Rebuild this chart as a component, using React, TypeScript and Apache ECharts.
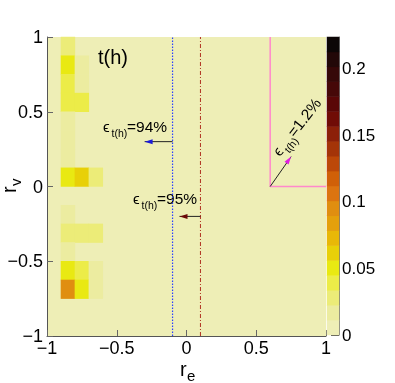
import React, { useEffect, useRef } from "react";
import * as echarts from "echarts";

const FONT = "'Liberation Sans', Arial, Helvetica, sans-serif";

// histogram binning (category bins on the hidden axes)
const X_BINS = ["-0.95","-0.85","-0.75","-0.65","-0.55","-0.45","-0.35","-0.25","-0.15","-0.05","0.05","0.15","0.25","0.35","0.45","0.55","0.65","0.75","0.85","0.95"];
const Y_BINS = ["-0.9375","-0.8125","-0.6875","-0.5625","-0.4375","-0.3125","-0.1875","-0.0625","0.0625","0.1875","0.3125","0.4375","0.5625","0.6875","0.8125","0.9375"];

// filled cells: bin centre x (r_e), bin centre y (r_v), content
const cellX = [-0.85, -0.85, -0.75, -0.85, -0.75, -0.85, -0.75, -0.85, -0.85, -0.85, -0.85, -0.75, -0.65, -0.85, -0.85, -0.75, -0.65, -0.85, -0.85, -0.75, -0.65, -0.85, -0.75, -0.65];
const cellY = [0.9375, 0.8125, 0.8125, 0.6875, 0.6875, 0.5625, 0.5625, 0.4375, 0.3125, 0.1875, 0.0625, 0.0625, 0.0625, -0.1875, -0.3125, -0.3125, -0.3125, -0.4375, -0.5625, -0.5625, -0.5625, -0.6875, -0.6875, -0.6875];
const cellV = [0.028, 0.052, 0.02, 0.035, 0.02, 0.042, 0.042, 0.02, 0.02, 0.02, 0.045, 0.062, 0.025, 0.02, 0.025, 0.025, 0.025, 0.02, 0.052, 0.035, 0.02, 0.09, 0.052, 0.02];

// colour palette (bottom to top of the colour bar)
const Z_MAX = 0.224;
const PALETTE = ["#eeeeb6","#ececa0","#ecec78","#ecec48","#e9e912","#e8d008","#e8b808","#e4a00c","#e08e10","#dc7410","#d06008","#bc4808","#a43408","#8c2008","#700c06","#5a0606","#460808","#360808","#220808","#0c0606"];

// axis ticks
const AXIS_MIN = -1;
const AXIS_MAX = 1;
const AXIS_STEP = 0.5;
const Z_STEP_LABEL = 0.05;

// reference lines / arrows (data coordinates)
const blueLine = [[-0.1, -1], [-0.1, 1]];
const redLine = [[0.1, -1], [0.1, 1]];
const pinkBox = [[0.6, 1], [0.6, 0], [1, 0]];
const arrowBlue = [[-0.1, 0.3], [-0.3, 0.3]];
const arrowRed = [[0.1, -0.2], [-0.05, -0.2]];
const arrowPink = [[0.6, 0], [0.75, 0.2]];

function fmt(v: number) {
  const s = String(Math.round(v * 1000) / 1000);
  return s.replace("-", "\u2212");
}

function epsText(x: number, y: number, rest: string, rotation = 0) {
  return {
    type: "group",
    x,
    y,
    rotation,
    children: [
      { type: "text", x: 0, y: -5, style: { text: "\u03f5", fontSize: 15, fontFamily: FONT, fill: "#000", align: "left", verticalAlign: "middle" } },
      { type: "text", x: 8.5, y: 1.8, style: { text: "t(h)", fontSize: 10.5, fontFamily: FONT, fill: "#000", align: "left", verticalAlign: "middle" } },
      { type: "text", x: 24, y: -5, style: { text: rest, fontSize: 15.5, fontFamily: FONT, fill: "#000", align: "left", verticalAlign: "middle" } },
    ],
  };
}

export default function App() {
  const ref = useRef<HTMLDivElement>(null);
  useEffect(() => {
    if (!ref.current) return;
    const chart = echarts.init(ref.current, undefined, { renderer: "svg" });
    const step = Z_MAX / PALETTE.length;
    const pieces = PALETTE.map((c, i) => ({ gte: i * step, lt: i === PALETTE.length - 1 ? Z_MAX + 1 : (i + 1) * step, color: c }));
    const heat = cellX.map((x, i) => [
      Math.round((x - AXIS_MIN) / 0.1 - 0.5),
      Math.round((cellY[i] - AXIS_MIN) / 0.125 - 0.5),
      cellV[i],
    ]);
    const barData = PALETTE.map((_, i) => [0, i, (i + 0.5) * step]);

    const valueAxisCommon = {
      type: "value",
      gridIndex: 0,
      min: AXIS_MIN,
      max: AXIS_MAX,
      interval: AXIS_STEP,
      axisLine: { show: true, lineStyle: { color: "#555", width: 1 } },
      axisTick: { show: true, inside: true, length: 6, lineStyle: { color: "#666" } },
      splitLine: { show: false },
      axisLabel: { fontSize: 18, fontFamily: FONT, color: "#000", formatter: (v: number) => fmt(v) },
    };

    const lineS = (data: number[][], color: string, type: any, width = 1) => ({
      type: "line",
      xAxisIndex: 1,
      yAxisIndex: 1,
      data,
      symbol: "none",
      silent: true,
      animation: false,
      color,
      lineStyle: { color, type, width },
      z: 5,
    });
    const head = (pt: number[], color: string, rot: number, off: number[]) => ({
      type: "scatter",
      xAxisIndex: 1,
      yAxisIndex: 1,
      data: [pt],
      symbol: "triangle",
      symbolSize: [5, 8],
      symbolRotate: rot,
      symbolOffset: off,
      itemStyle: { color, opacity: 1 },
      silent: true,
      z: 6,
    });

    chart.setOption({
      animation: false,
      grid: [
        { left: 47, top: 37, width: 279, height: 299, show: true, backgroundColor: PALETTE[0], borderWidth: 0 },
        { left: 327, top: 37, width: 12, height: 298, show: false },
      ],
      xAxis: [
        { type: "category", gridIndex: 0, data: X_BINS, show: false },
        { ...valueAxisCommon, position: "bottom", axisLabel: { ...valueAxisCommon.axisLabel, margin: 3 } },
        { type: "category", gridIndex: 1, data: ["z"], show: false },
      ],
      yAxis: [
        { type: "category", gridIndex: 0, data: Y_BINS, show: false },
        { ...valueAxisCommon, position: "left", axisLabel: { ...valueAxisCommon.axisLabel, margin: 4 } },
        { type: "category", gridIndex: 1, data: PALETTE.map((_, i) => String(i)), show: false },
        {
          type: "value",
          gridIndex: 1,
          position: "right",
          min: 0,
          max: Z_MAX,
          interval: Z_STEP_LABEL,
          axisLine: { show: true, lineStyle: { color: "#777" } },
          axisTick: { show: true, inside: true, length: 8, lineStyle: { color: "#444" } },
          splitLine: { show: false },
          axisLabel: { fontSize: 17, fontFamily: FONT, color: "#000", margin: 3, showMaxLabel: false, formatter: (v: number) => fmt(v) },
        },
      ],
      visualMap: { type: "piecewise", show: false, seriesIndex: [0, 1], dimension: 2, pieces },
      series: [
        { type: "heatmap", xAxisIndex: 0, yAxisIndex: 0, data: heat, silent: true, itemStyle: { borderWidth: 0 } },
        { type: "heatmap", xAxisIndex: 2, yAxisIndex: 2, data: barData, silent: true, itemStyle: { borderWidth: 0 } },
        lineS(blueLine, "#2a40ff", [1.5, 1.5], 1.2),
        lineS(redLine, "#b03020", [4, 2, 1, 2]),
        lineS(pinkBox, "#ff88cc", "solid", 1.5),
        lineS(arrowBlue, "#222", "solid"),
        lineS(arrowRed, "#222", "solid"),
        lineS(arrowPink, "#222", "solid"),
        head(arrowBlue[1], "#1a1ad8", 90, [4, 0]),
        head(arrowRed[1], "#6a0808", 90, [4, 0]),
        head(arrowPink[1], "#e020e0", -35, [-2.3, 3.3]),
      ],
      graphic: [
        { type: "text", x: 98, y: 56.5, style: { text: "t(h)", fontSize: 20, fontFamily: FONT, fill: "#000", align: "left", verticalAlign: "middle" } },
        epsText(103, 131, "=94%"),
        epsText(133, 203, "=95%"),
        epsText(279.6, 156.9, "=1.2%", (52 * Math.PI) / 180),
        { type: "text", x: 180, y: 368.5, style: { text: "r", fontSize: 20, fontFamily: FONT, fill: "#000", align: "left", verticalAlign: "middle" } },
        { type: "text", x: 187, y: 375, style: { text: "e", fontSize: 15, fontFamily: FONT, fill: "#000", align: "left", verticalAlign: "middle" } },
        {
          type: "group",
          x: 16,
          y: 193,
          rotation: Math.PI / 2,
          children: [
            { type: "text", x: 0, y: -6.6, style: { text: "r", fontSize: 20, fontFamily: FONT, fill: "#000", align: "left", verticalAlign: "middle" } },
            { type: "text", x: 7, y: -1, style: { text: "v", fontSize: 15, fontFamily: FONT, fill: "#000", align: "left", verticalAlign: "middle" } },
          ],
        },
      ],
    });
    return () => chart.dispose();
  }, []);
  return <div ref={ref} style={{ position: "fixed", left: 0, top: 0, width: 395, height: 383 }} />;
}
